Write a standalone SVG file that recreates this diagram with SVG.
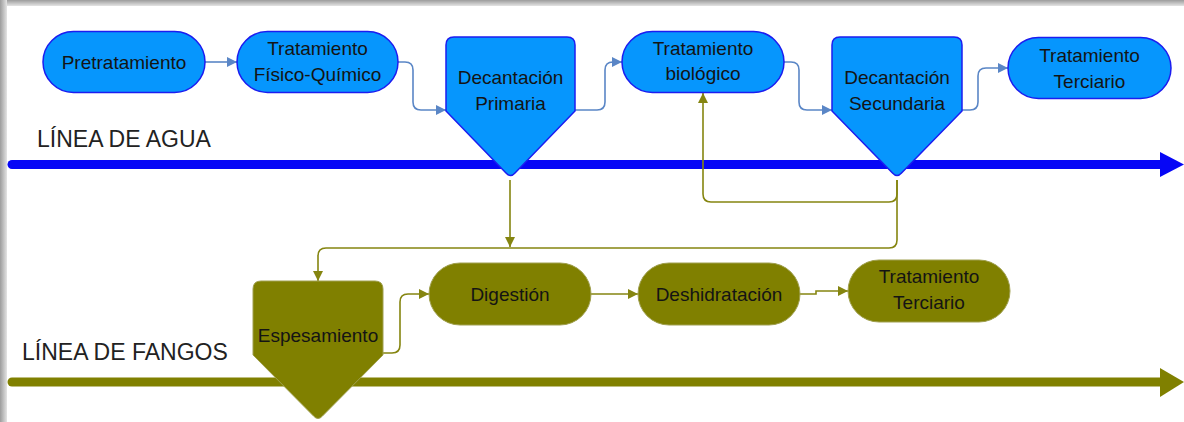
<svg xmlns="http://www.w3.org/2000/svg" width="1184" height="422" viewBox="0 0 1184 422">
<defs>
<linearGradient id="gTop" x1="0" y1="0" x2="0" y2="1"><stop offset="0" stop-color="#9c9c9c"/><stop offset="1" stop-color="#e4e4e4"/></linearGradient>
<linearGradient id="gLeft" x1="0" y1="0" x2="1" y2="0"><stop offset="0" stop-color="#9c9c9c"/><stop offset="1" stop-color="#e4e4e4"/></linearGradient>
<marker id="aBlue" viewBox="0 0 10 10" refX="10" refY="5" markerUnits="userSpaceOnUse" markerWidth="11" markerHeight="10" orient="auto"><path d="M0,0 L10,5 L0,10 z" fill="#5a86c6"/></marker>
<marker id="aOlive" viewBox="0 0 10 10" refX="10" refY="5" markerUnits="userSpaceOnUse" markerWidth="11" markerHeight="10" orient="auto"><path d="M0,0 L10,5 L0,10 z" fill="#858510"/></marker>
</defs>
<style>
.lbl{font-family:"Liberation Sans",Arial,sans-serif;font-size:19px;fill:#141414;text-anchor:middle}
.lane{font-family:"Liberation Sans",Arial,sans-serif;font-size:23px;fill:#222}
.bnode{fill:#0696fd;stroke:#1c1cf0;stroke-width:1.5}
.onode{fill:#808000;stroke:#a0a050;stroke-width:1}
.bc{fill:none;stroke:#5a86c6;stroke-width:1.6;marker-end:url(#aBlue)}
.oc{fill:none;stroke:#858510;stroke-width:1.6;marker-end:url(#aOlive)}
</style>
<rect width="1184" height="422" fill="#fff"/>
<rect x="0" y="0" width="1184" height="6" fill="url(#gTop)"/>
<rect x="0" y="0" width="7" height="422" fill="url(#gLeft)"/>

<g id="lanes">
<line x1="12" y1="164.5" x2="1162" y2="164.5" stroke="#0606f6" stroke-width="9" stroke-linecap="round"/>
<polygon points="1160,152 1184,164.5 1160,177" fill="#0606f6"/>
<text class="lane" x="37" y="147">LÍNEA DE AGUA</text>
<line x1="12" y1="382" x2="1162" y2="382" stroke="#808000" stroke-width="9" stroke-linecap="round"/>
<polygon points="1160,368 1184,382 1160,397" fill="#808000"/>
<text class="lane" x="22" y="360">LÍNEA DE FANGOS</text>
</g>

<g id="connectors">
<path class="bc" d="M205,62 H237"/>
<path class="bc" d="M398,62 H405 Q413,62 413,70 V102 Q413,110 421,110 H446"/>
<path class="bc" d="M575,110 H597 Q605,110 605,102 V70 Q605,62 613,62 H622"/>
<path class="bc" d="M784,62 H791 Q799,62 799,70 V102 Q799,110 807,110 H832"/>
<path class="bc" d="M962,110 H970 Q978,110 978,102 V76 Q978,68 986,68 H1008"/>
<path class="oc" d="M510,180 V247"/>
<path class="oc" d="M897,180 V194 Q897,202 889,202 H711 Q703,202 703,194 V93"/>
<path class="oc" d="M897,180 V240 Q897,248 889,248 H326 Q318,248 318,256 V281"/>
<path class="oc" d="M383,353 H392 Q400,353 400,345 V302 Q400,294 408,294 H429"/>
<path class="oc" d="M591,294 H638"/>
<path class="oc" d="M800,294 H816 V291 H848"/>
</g>

<g id="pretratamiento">
<rect class="bnode" x="43" y="31.5" width="162" height="61" rx="30.5"/>
<text class="lbl" x="124" y="68.5">Pretratamiento</text>
</g>
<g id="fisico-quimico">
<rect class="bnode" x="237" y="31.5" width="161" height="61" rx="30.5"/>
<text class="lbl" x="317.5" y="55">Tratamiento</text>
<text class="lbl" x="317.5" y="81">Físico-Químico</text>
</g>
<g id="decantacion-primaria">
<path class="bnode" d="M454,37 H567 Q575,37 575,45 V111 L515,173 Q510.5,178 506,173 L446,111 V45 Q446,37 454,37 Z"/>
<text class="lbl" x="510.5" y="84">Decantación</text>
<text class="lbl" x="510.5" y="110">Primaria</text>
</g>
<g id="biologico">
<rect class="bnode" x="622" y="31.5" width="162" height="61" rx="30.5"/>
<text class="lbl" x="703" y="55">Tratamiento</text>
<text class="lbl" x="703" y="80">biológico</text>
</g>
<g id="decantacion-secundaria">
<path class="bnode" d="M840,37 H954 Q962,37 962,45 V111 L901.5,173 Q897,178 892.5,173 L832,111 V45 Q832,37 840,37 Z"/>
<text class="lbl" x="897" y="84">Decantación</text>
<text class="lbl" x="897" y="110">Secundaria</text>
</g>
<g id="terciario-agua">
<rect class="bnode" x="1008" y="37.5" width="163" height="61" rx="30.5"/>
<text class="lbl" x="1089.5" y="62">Tratamiento</text>
<text class="lbl" x="1089.5" y="88">Terciario</text>
</g>

<g id="espesamiento">
<path class="onode" d="M261,281 H375 Q383,281 383,289 V355 L322.5,416 Q318,421 313.5,416 L253,355 V289 Q253,281 261,281 Z"/>
<text class="lbl" x="318" y="342">Espesamiento</text>
</g>
<g id="digestion">
<rect class="onode" x="429" y="263" width="162" height="62" rx="31"/>
<text class="lbl" x="510" y="300.5">Digestión</text>
</g>
<g id="deshidratacion">
<rect class="onode" x="638" y="263" width="162" height="62" rx="31"/>
<text class="lbl" x="719" y="300.5">Deshidratación</text>
</g>
<g id="terciario-fangos">
<rect class="onode" x="848" y="260" width="162" height="62" rx="31"/>
<text class="lbl" x="929" y="283">Tratamiento</text>
<text class="lbl" x="929" y="309">Terciario</text>
</g>
</svg>
